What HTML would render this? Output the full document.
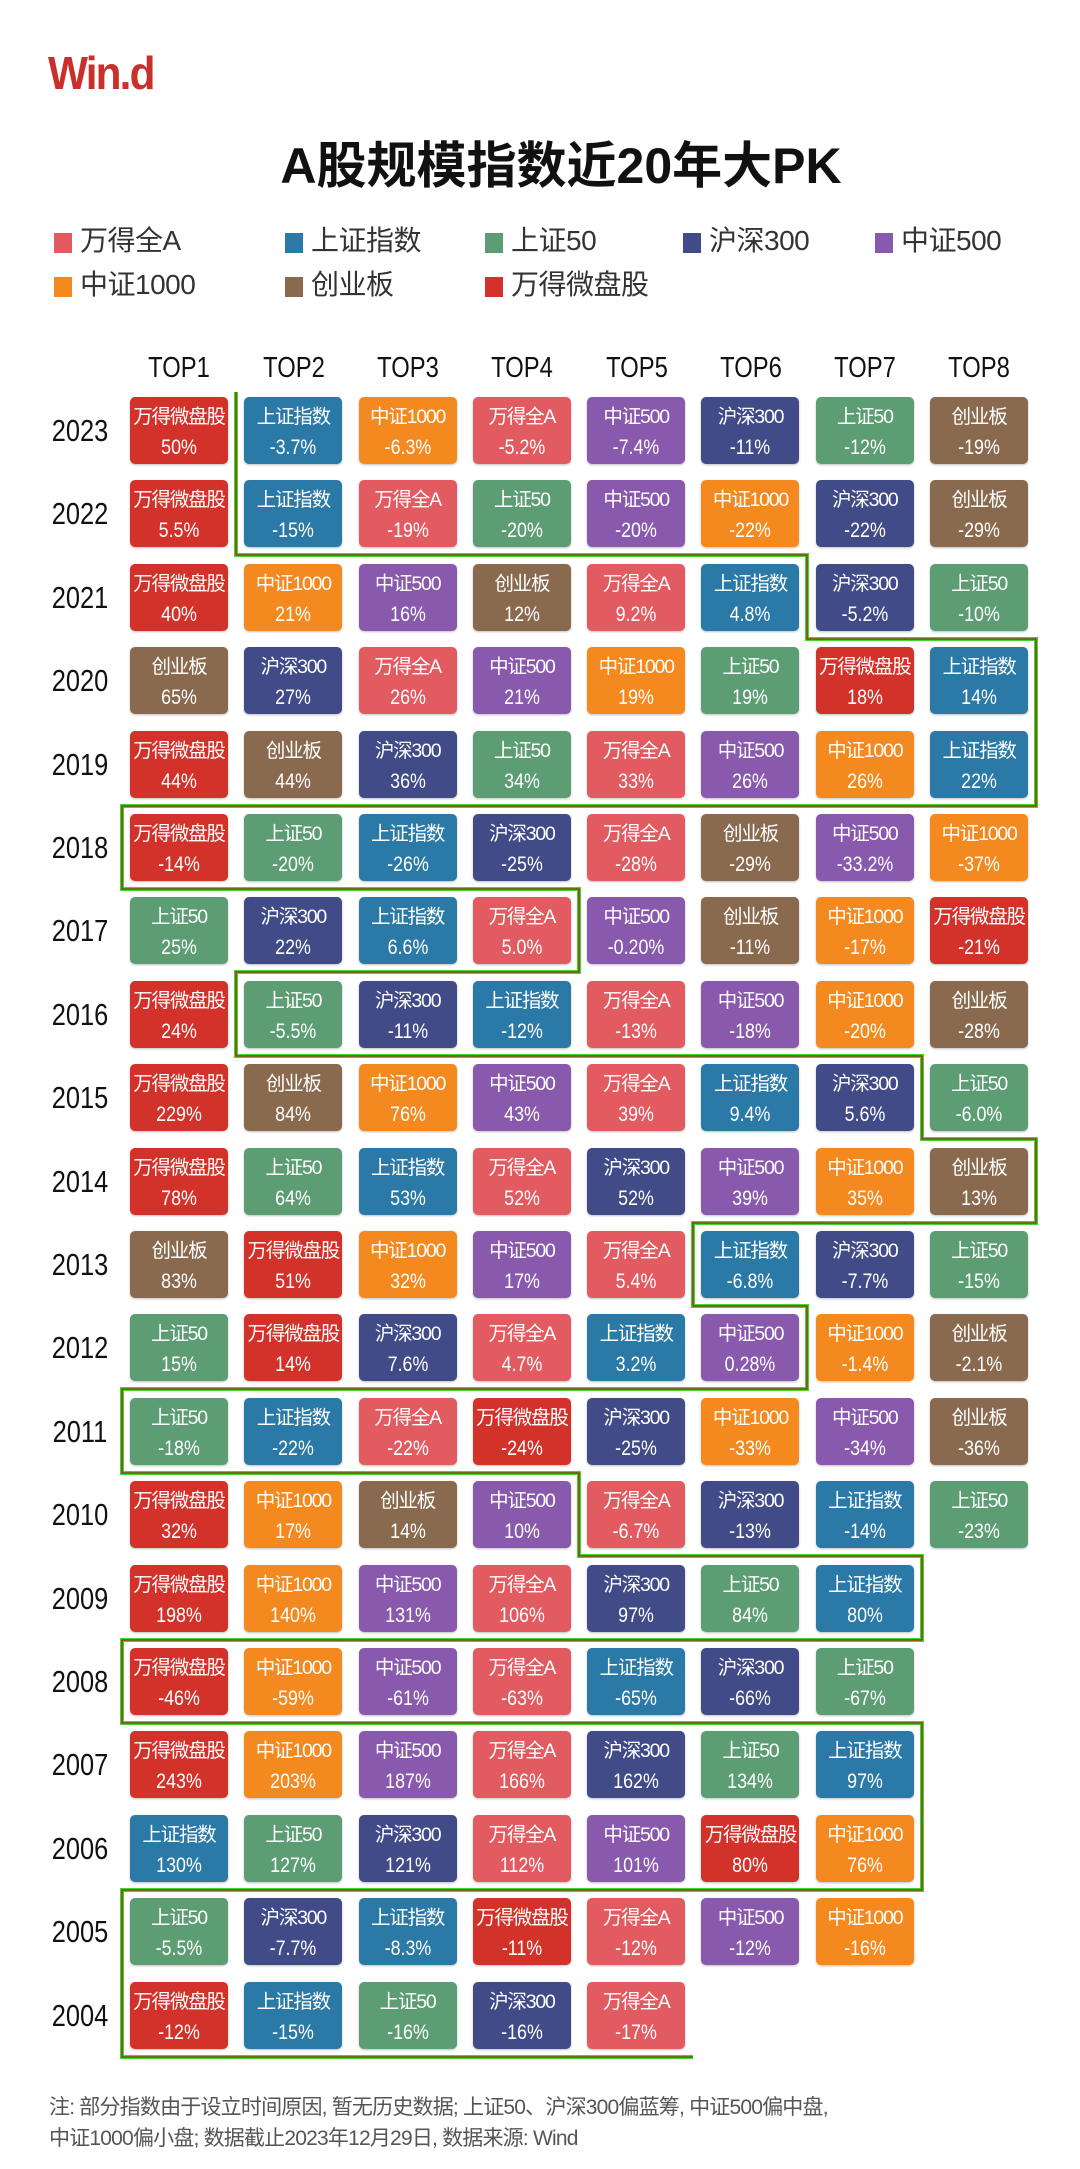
<!DOCTYPE html>
<html><head><meta charset="utf-8"><style>
*{margin:0;padding:0;box-sizing:border-box}
body{width:1080px;height:2169px;background:#fff;position:relative;overflow:hidden;font-family:"Liberation Sans","Noto Sans CJK SC",sans-serif}
.logo{position:absolute;left:48px;top:46px;font:bold 46px "Liberation Sans",sans-serif;color:#c8302a;letter-spacing:-2px;transform:scaleX(0.92);transform-origin:left}
.title{position:absolute;left:0;width:1122px;top:126px;text-align:center;font-weight:bold;font-size:50px;color:#111;letter-spacing:0px}
.lg{position:absolute;font-size:28px;color:#333;line-height:34px;white-space:nowrap;letter-spacing:-0.5px}
.lg i{display:inline-block;width:18px;height:20px;margin-right:8px;vertical-align:-3px}
.hd{position:absolute;top:352px;width:100px;text-align:center;font:29px "Liberation Sans",sans-serif;color:#111;transform:scaleX(0.82)}
.row{position:absolute;left:130px;display:flex;gap:16.3px}
.yr{position:absolute;left:40px;width:80px;text-align:center;font:31px "Liberation Sans",sans-serif;color:#111;line-height:67px;transform:scaleX(0.82)}
.c{width:98px;height:67px;border-radius:5px;color:#fff;text-align:center;box-shadow:0 1px 2px rgba(0,0,0,.25);font-size:19.5px;line-height:19px;padding-top:11px;white-space:nowrap;letter-spacing:-1.2px;overflow:hidden}
.c b{display:block;font-weight:normal;font-size:21px;margin-top:11px;letter-spacing:0;transform:scaleX(0.85)}
.a{background:#e25b61}.s{background:#2b79a6}.f{background:#5d9d74}.h{background:#404b88}.z5{background:#8859ad}.z1{background:#f3891f}.cy{background:#8a6a4f}.w{background:#d3322b}
.note{position:absolute;left:49px;top:2092px;font-size:21px;color:#555;line-height:31px;width:1030px;letter-spacing:-0.8px;white-space:nowrap}
</style></head><body>
<div class="logo">Win.d</div>
<div class="title">A股规模指数近20年大PK</div>
<div class="lg" style="left:54px;top:224px"><i class="a"></i>万得全A</div>
<div class="lg" style="left:285px;top:224px"><i class="s"></i>上证指数</div>
<div class="lg" style="left:485px;top:224px"><i class="f"></i>上证50</div>
<div class="lg" style="left:683px;top:224px"><i class="h"></i>沪深300</div>
<div class="lg" style="left:875px;top:224px"><i class="z5"></i>中证500</div>
<div class="lg" style="left:54px;top:268px"><i class="z1"></i>中证1000</div>
<div class="lg" style="left:285px;top:268px"><i class="cy"></i>创业板</div>
<div class="lg" style="left:485px;top:268px"><i class="w"></i>万得微盘股</div>

<div class="hd" style="left:129px">TOP1</div><div class="hd" style="left:244px">TOP2</div><div class="hd" style="left:358px">TOP3</div><div class="hd" style="left:472px">TOP4</div><div class="hd" style="left:587px">TOP5</div><div class="hd" style="left:701px">TOP6</div><div class="hd" style="left:815px">TOP7</div><div class="hd" style="left:929px">TOP8</div>

<div class="yr" style="top:397px">2023</div><div class="row" style="top:397px"><div class="c w">万得微盘股<b>50%</b></div><div class="c s">上证指数<b>-3.7%</b></div><div class="c z1">中证1000<b>-6.3%</b></div><div class="c a">万得全A<b>-5.2%</b></div><div class="c z5">中证500<b>-7.4%</b></div><div class="c h">沪深300<b>-11%</b></div><div class="c f">上证50<b>-12%</b></div><div class="c cy">创业板<b>-19%</b></div></div>
<div class="yr" style="top:480px">2022</div><div class="row" style="top:480px"><div class="c w">万得微盘股<b>5.5%</b></div><div class="c s">上证指数<b>-15%</b></div><div class="c a">万得全A<b>-19%</b></div><div class="c f">上证50<b>-20%</b></div><div class="c z5">中证500<b>-20%</b></div><div class="c z1">中证1000<b>-22%</b></div><div class="c h">沪深300<b>-22%</b></div><div class="c cy">创业板<b>-29%</b></div></div>
<div class="yr" style="top:564px">2021</div><div class="row" style="top:564px"><div class="c w">万得微盘股<b>40%</b></div><div class="c z1">中证1000<b>21%</b></div><div class="c z5">中证500<b>16%</b></div><div class="c cy">创业板<b>12%</b></div><div class="c a">万得全A<b>9.2%</b></div><div class="c s">上证指数<b>4.8%</b></div><div class="c h">沪深300<b>-5.2%</b></div><div class="c f">上证50<b>-10%</b></div></div>
<div class="yr" style="top:647px">2020</div><div class="row" style="top:647px"><div class="c cy">创业板<b>65%</b></div><div class="c h">沪深300<b>27%</b></div><div class="c a">万得全A<b>26%</b></div><div class="c z5">中证500<b>21%</b></div><div class="c z1">中证1000<b>19%</b></div><div class="c f">上证50<b>19%</b></div><div class="c w">万得微盘股<b>18%</b></div><div class="c s">上证指数<b>14%</b></div></div>
<div class="yr" style="top:731px">2019</div><div class="row" style="top:731px"><div class="c w">万得微盘股<b>44%</b></div><div class="c cy">创业板<b>44%</b></div><div class="c h">沪深300<b>36%</b></div><div class="c f">上证50<b>34%</b></div><div class="c a">万得全A<b>33%</b></div><div class="c z5">中证500<b>26%</b></div><div class="c z1">中证1000<b>26%</b></div><div class="c s">上证指数<b>22%</b></div></div>
<div class="yr" style="top:814px">2018</div><div class="row" style="top:814px"><div class="c w">万得微盘股<b>-14%</b></div><div class="c f">上证50<b>-20%</b></div><div class="c s">上证指数<b>-26%</b></div><div class="c h">沪深300<b>-25%</b></div><div class="c a">万得全A<b>-28%</b></div><div class="c cy">创业板<b>-29%</b></div><div class="c z5">中证500<b>-33.2%</b></div><div class="c z1">中证1000<b>-37%</b></div></div>
<div class="yr" style="top:897px">2017</div><div class="row" style="top:897px"><div class="c f">上证50<b>25%</b></div><div class="c h">沪深300<b>22%</b></div><div class="c s">上证指数<b>6.6%</b></div><div class="c a">万得全A<b>5.0%</b></div><div class="c z5">中证500<b>-0.20%</b></div><div class="c cy">创业板<b>-11%</b></div><div class="c z1">中证1000<b>-17%</b></div><div class="c w">万得微盘股<b>-21%</b></div></div>
<div class="yr" style="top:981px">2016</div><div class="row" style="top:981px"><div class="c w">万得微盘股<b>24%</b></div><div class="c f">上证50<b>-5.5%</b></div><div class="c h">沪深300<b>-11%</b></div><div class="c s">上证指数<b>-12%</b></div><div class="c a">万得全A<b>-13%</b></div><div class="c z5">中证500<b>-18%</b></div><div class="c z1">中证1000<b>-20%</b></div><div class="c cy">创业板<b>-28%</b></div></div>
<div class="yr" style="top:1064px">2015</div><div class="row" style="top:1064px"><div class="c w">万得微盘股<b>229%</b></div><div class="c cy">创业板<b>84%</b></div><div class="c z1">中证1000<b>76%</b></div><div class="c z5">中证500<b>43%</b></div><div class="c a">万得全A<b>39%</b></div><div class="c s">上证指数<b>9.4%</b></div><div class="c h">沪深300<b>5.6%</b></div><div class="c f">上证50<b>-6.0%</b></div></div>
<div class="yr" style="top:1148px">2014</div><div class="row" style="top:1148px"><div class="c w">万得微盘股<b>78%</b></div><div class="c f">上证50<b>64%</b></div><div class="c s">上证指数<b>53%</b></div><div class="c a">万得全A<b>52%</b></div><div class="c h">沪深300<b>52%</b></div><div class="c z5">中证500<b>39%</b></div><div class="c z1">中证1000<b>35%</b></div><div class="c cy">创业板<b>13%</b></div></div>
<div class="yr" style="top:1231px">2013</div><div class="row" style="top:1231px"><div class="c cy">创业板<b>83%</b></div><div class="c w">万得微盘股<b>51%</b></div><div class="c z1">中证1000<b>32%</b></div><div class="c z5">中证500<b>17%</b></div><div class="c a">万得全A<b>5.4%</b></div><div class="c s">上证指数<b>-6.8%</b></div><div class="c h">沪深300<b>-7.7%</b></div><div class="c f">上证50<b>-15%</b></div></div>
<div class="yr" style="top:1314px">2012</div><div class="row" style="top:1314px"><div class="c f">上证50<b>15%</b></div><div class="c w">万得微盘股<b>14%</b></div><div class="c h">沪深300<b>7.6%</b></div><div class="c a">万得全A<b>4.7%</b></div><div class="c s">上证指数<b>3.2%</b></div><div class="c z5">中证500<b>0.28%</b></div><div class="c z1">中证1000<b>-1.4%</b></div><div class="c cy">创业板<b>-2.1%</b></div></div>
<div class="yr" style="top:1398px">2011</div><div class="row" style="top:1398px"><div class="c f">上证50<b>-18%</b></div><div class="c s">上证指数<b>-22%</b></div><div class="c a">万得全A<b>-22%</b></div><div class="c w">万得微盘股<b>-24%</b></div><div class="c h">沪深300<b>-25%</b></div><div class="c z1">中证1000<b>-33%</b></div><div class="c z5">中证500<b>-34%</b></div><div class="c cy">创业板<b>-36%</b></div></div>
<div class="yr" style="top:1481px">2010</div><div class="row" style="top:1481px"><div class="c w">万得微盘股<b>32%</b></div><div class="c z1">中证1000<b>17%</b></div><div class="c cy">创业板<b>14%</b></div><div class="c z5">中证500<b>10%</b></div><div class="c a">万得全A<b>-6.7%</b></div><div class="c h">沪深300<b>-13%</b></div><div class="c s">上证指数<b>-14%</b></div><div class="c f">上证50<b>-23%</b></div></div>
<div class="yr" style="top:1565px">2009</div><div class="row" style="top:1565px"><div class="c w">万得微盘股<b>198%</b></div><div class="c z1">中证1000<b>140%</b></div><div class="c z5">中证500<b>131%</b></div><div class="c a">万得全A<b>106%</b></div><div class="c h">沪深300<b>97%</b></div><div class="c f">上证50<b>84%</b></div><div class="c s">上证指数<b>80%</b></div></div>
<div class="yr" style="top:1648px">2008</div><div class="row" style="top:1648px"><div class="c w">万得微盘股<b>-46%</b></div><div class="c z1">中证1000<b>-59%</b></div><div class="c z5">中证500<b>-61%</b></div><div class="c a">万得全A<b>-63%</b></div><div class="c s">上证指数<b>-65%</b></div><div class="c h">沪深300<b>-66%</b></div><div class="c f">上证50<b>-67%</b></div></div>
<div class="yr" style="top:1731px">2007</div><div class="row" style="top:1731px"><div class="c w">万得微盘股<b>243%</b></div><div class="c z1">中证1000<b>203%</b></div><div class="c z5">中证500<b>187%</b></div><div class="c a">万得全A<b>166%</b></div><div class="c h">沪深300<b>162%</b></div><div class="c f">上证50<b>134%</b></div><div class="c s">上证指数<b>97%</b></div></div>
<div class="yr" style="top:1815px">2006</div><div class="row" style="top:1815px"><div class="c s">上证指数<b>130%</b></div><div class="c f">上证50<b>127%</b></div><div class="c h">沪深300<b>121%</b></div><div class="c a">万得全A<b>112%</b></div><div class="c z5">中证500<b>101%</b></div><div class="c w">万得微盘股<b>80%</b></div><div class="c z1">中证1000<b>76%</b></div></div>
<div class="yr" style="top:1898px">2005</div><div class="row" style="top:1898px"><div class="c f">上证50<b>-5.5%</b></div><div class="c h">沪深300<b>-7.7%</b></div><div class="c s">上证指数<b>-8.3%</b></div><div class="c w">万得微盘股<b>-11%</b></div><div class="c a">万得全A<b>-12%</b></div><div class="c z5">中证500<b>-12%</b></div><div class="c z1">中证1000<b>-16%</b></div></div>
<div class="yr" style="top:1982px">2004</div><div class="row" style="top:1982px"><div class="c w">万得微盘股<b>-12%</b></div><div class="c s">上证指数<b>-15%</b></div><div class="c f">上证50<b>-16%</b></div><div class="c h">沪深300<b>-16%</b></div><div class="c a">万得全A<b>-17%</b></div></div>

<svg style="position:absolute;left:0;top:0" width="1080" height="2169">
<g fill="none" stroke-linejoin="miter">
<path d="M236 392 V555 H807 V639 H1036 V806 H122 V889 H579 V972 H236 V1056 H922 V1139 H1036 V1223 H693 V1306 H807 V1389 H122 V1473 H579 V1556 H922 V1640 H122 V1723 H922 V1890 H122 V2057 H693" stroke="#45d62c" stroke-width="4"/>
<path d="M236 392 V555 H807 V639 H1036 V806 H122 V889 H579 V972 H236 V1056 H922 V1139 H1036 V1223 H693 V1306 H807 V1389 H122 V1473 H579 V1556 H922 V1640 H122 V1723 H922 V1890 H122 V2057 H693" stroke="#8a2a14" stroke-width="1.3"/>
</g></svg>

<div class="note">注: 部分指数由于设立时间原因, 暂无历史数据; 上证50、沪深300偏蓝筹, 中证500偏中盘,<br>中证1000偏小盘; 数据截止2023年12月29日, 数据来源: Wind</div>
</body></html>
